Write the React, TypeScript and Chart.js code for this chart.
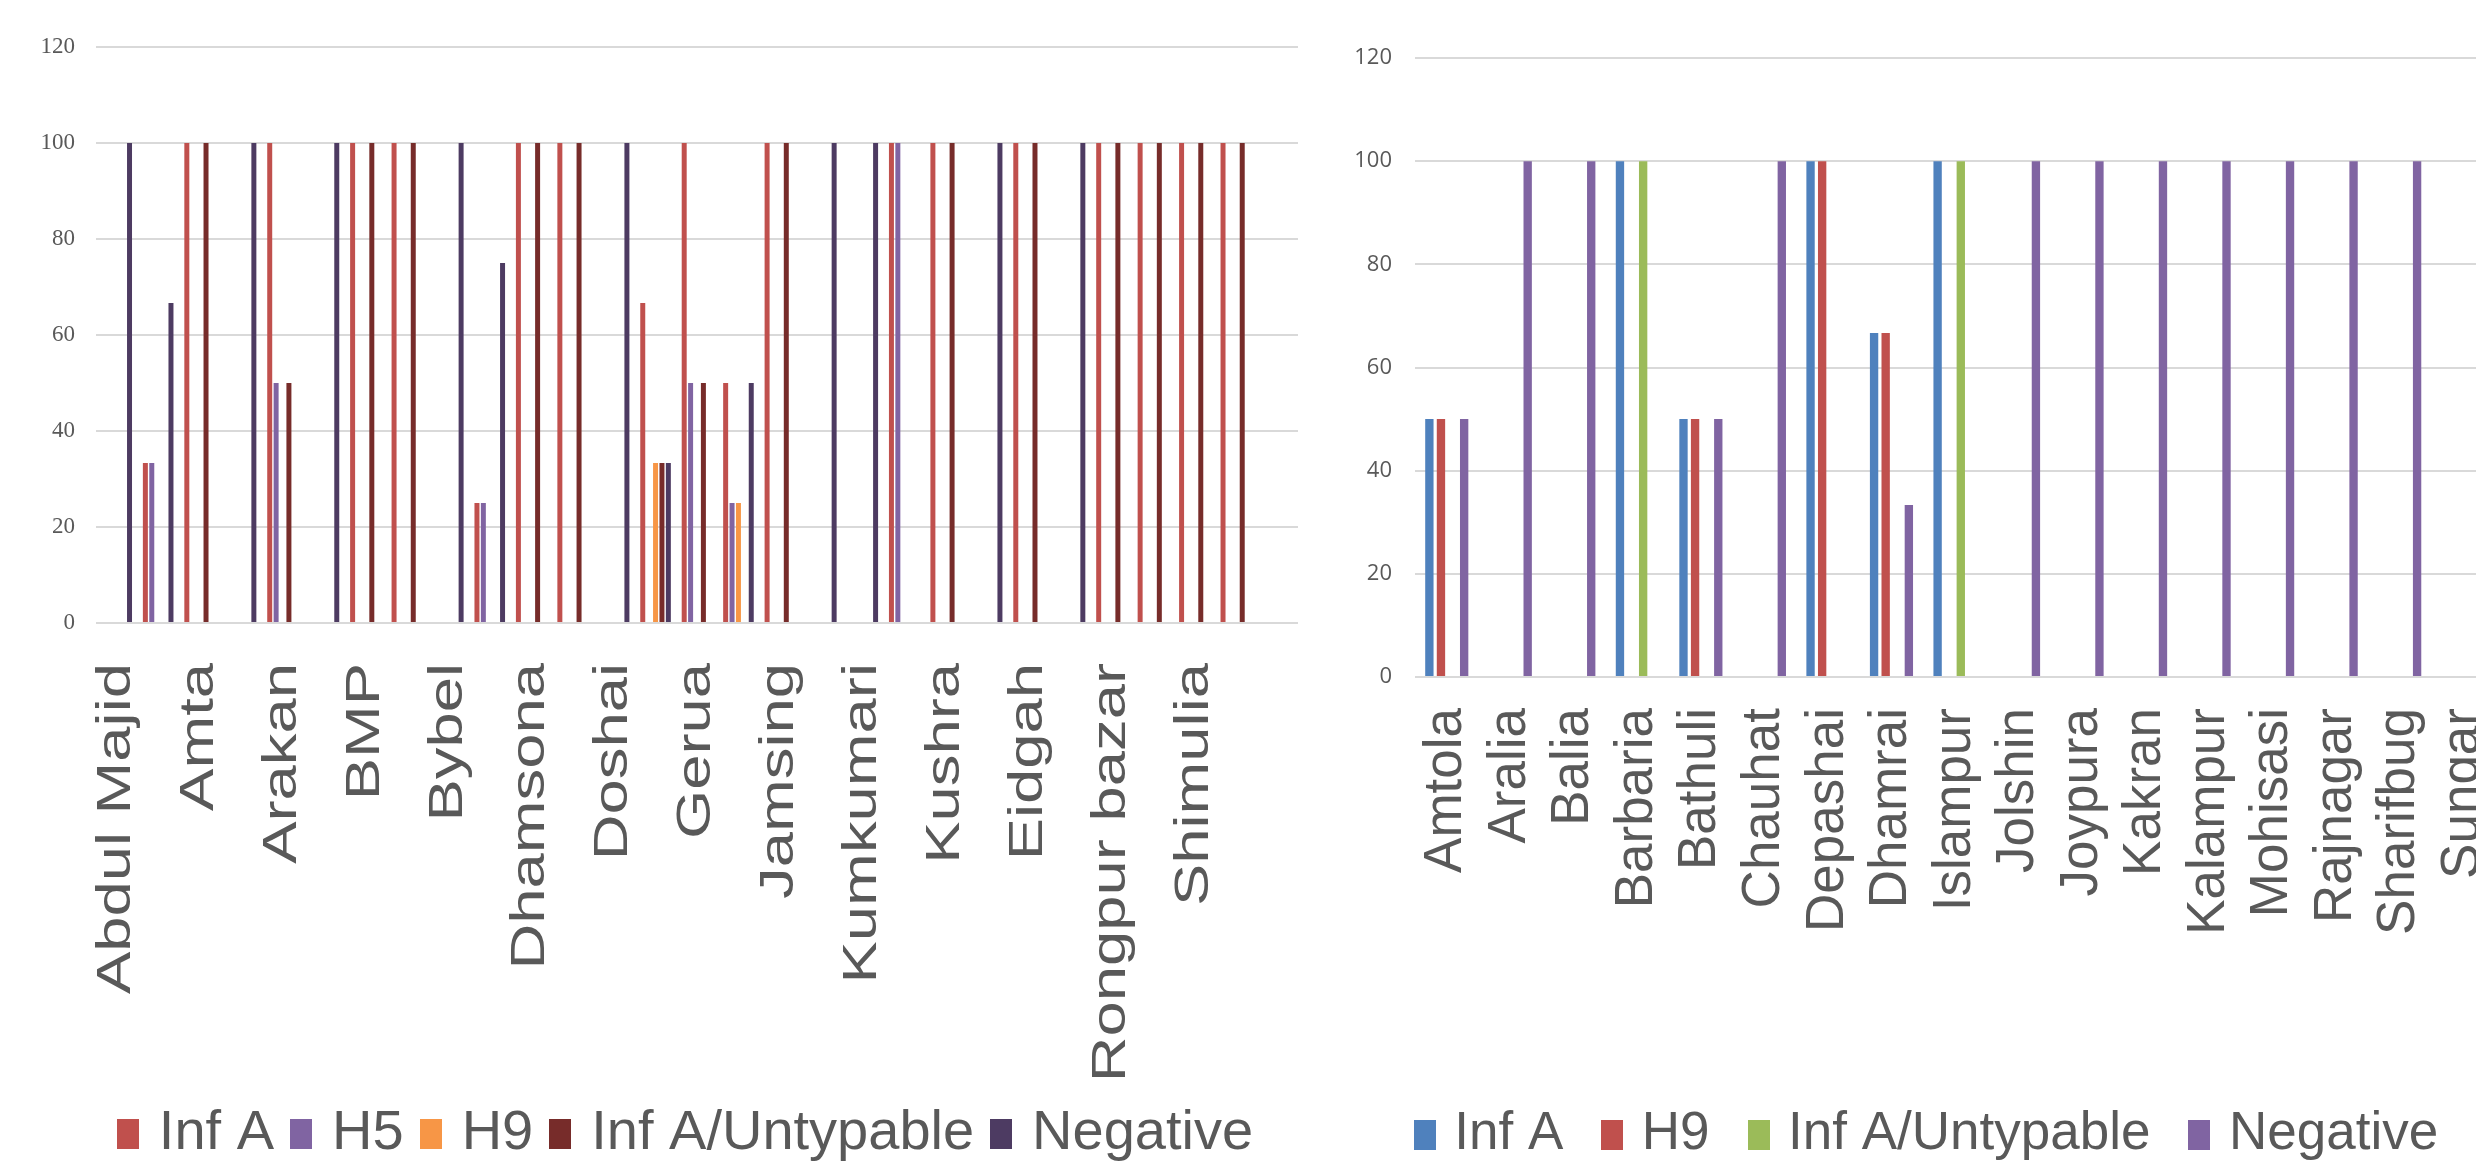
import React, { useEffect, useRef } from 'react';
import { Chart, registerables } from 'chart.js';

Chart.register(...registerables);

// ---------- Left chart data ----------
const leftCategories = [
  'Abdul Majid', '', 'Amta', '', 'Arakan', '', 'BMP', '', 'Bybel', '',
  'Dhamsona', '', 'Doshai', '', 'Gerua', '', 'Jamsing', '', 'Kumkumari', '',
  'Kushra', '', 'Eidgah', '', 'Rongpur bazar', '', 'Shimulia', '', '',
];
const leftInfA = [0, 33.33, 100, 0, 100, 0, 100, 100, 0, 25, 100, 100, 0, 66.67, 100, 50, 100, 0, 0, 100, 100, 0, 100, 0, 100, 100, 100, 100, 0];
const leftH5 = [0, 33.33, 0, 0, 50, 0, 0, 0, 0, 25, 0, 0, 0, 0, 50, 25, 0, 0, 0, 100, 0, 0, 0, 0, 0, 0, 0, 0, 0];
const leftH9 = [0, 0, 0, 0, 0, 0, 0, 0, 0, 0, 0, 0, 0, 33.33, 0, 25, 0, 0, 0, 0, 0, 0, 0, 0, 0, 0, 0, 0, 0];
const leftUntypable = [0, 0, 100, 0, 50, 0, 100, 100, 0, 0, 100, 100, 0, 33.33, 50, 0, 100, 0, 0, 0, 100, 0, 100, 0, 100, 100, 100, 100, 0];
const leftNegative = [100, 66.67, 0, 100, 0, 100, 0, 0, 100, 75, 0, 0, 100, 33.33, 0, 50, 0, 100, 100, 0, 0, 100, 0, 100, 0, 0, 0, 0, 0];

// ---------- Right chart data ----------
const rightCategories = [
  'Amtola', 'Aralia', 'Balia', 'Barbaria', 'Bathuli', 'Chauhat', 'Depashai', 'Dhamrai',
  'Islampur', 'Jolshin', 'Joypura', 'Kakran', 'Kalampur', 'Mohisasi', 'Rajnagar', 'Sharifbug', 'Sungar',
];
const rightInfA = [50, 0, 0, 100, 50, 0, 100, 66.67, 100, 0, 0, 0, 0, 0, 0, 0, 0];
const rightH9 = [50, 0, 0, 0, 50, 0, 100, 66.67, 0, 0, 0, 0, 0, 0, 0, 0, 0];
const rightUntypable = [0, 0, 0, 100, 0, 0, 0, 0, 100, 0, 0, 0, 0, 0, 0, 0, 0];
const rightNegative = [50, 100, 100, 0, 50, 100, 0, 33.33, 0, 100, 100, 100, 100, 100, 100, 100, 100];

const yTicks = [0, 20, 40, 60, 80, 100, 120];

const TEXT = '#595959';
const GRID = '#d9d9d9';

// draws the rotated category labels under the x scale (optionally elongated along the text)
const rotatedLabels = {
  id: 'rotatedLabels',
  afterDraw(chart: any, _args: any, opts: any) {
    if (!opts || !opts.enabled) return;
    const { ctx, chartArea } = chart;
    const xs = chart.scales.x;
    const labels = chart.data.labels as string[];
    ctx.save();
    ctx.font = `${opts.size}px "Liberation Sans", Arial, sans-serif`;
    ctx.fillStyle = opts.color;
    ctx.textAlign = 'right';
    ctx.textBaseline = 'middle';
    labels.forEach((lab, i) => {
      if (!lab) return;
      const x = xs.getPixelForValue(i);
      ctx.save();
      ctx.translate(x, chartArea.bottom + opts.offset);
      ctx.rotate(-Math.PI / 2);
      ctx.scale(opts.stretch, 1);
      ctx.fillText(lab, 0, 0);
      ctx.restore();
    });
    ctx.restore();
  },
};

// an empty scale on the right that only reserves room, so the legend centre sits where the source has it
const spacerAxis = (width: number) => ({
  position: 'right' as const,
  display: true,
  grid: { display: false, drawTicks: false },
  border: { display: false },
  ticks: { display: false },
  afterFit: (s: any) => { s.width = width; },
});

// legend key swatch (22 x 30 rectangle in the series colour)
const makeSwatch = (color: string) => {
  const c = document.createElement('canvas');
  c.width = 22;
  c.height = 30;
  const g = c.getContext('2d')!;
  g.fillStyle = color;
  g.fillRect(0, 0, 22, 30);
  return c;
};

const legendLabels = (chart: any) => {
  const items = Chart.defaults.plugins.legend.labels.generateLabels(chart);
  return items.map((it: any, i: number) => ({
    ...it,
    pointStyle: makeSwatch(chart.data.datasets[i].backgroundColor as string),
    lineWidth: 0,
  }));
};

export default function App() {
  const leftRef = useRef<HTMLCanvasElement>(null);
  const rightRef = useRef<HTMLCanvasElement>(null);

  useEffect(() => {
    document.body.style.overflow = 'hidden';

    const LH = 1172;
    const leftLegendFont = 56, leftLegendPad = 24;
    const leftLegendTop = LH - (leftLegendFont + leftLegendPad + 10);
    const leftBottom = 623;

    const left = new Chart(leftRef.current!, {
      type: 'bar',
      data: {
        labels: leftCategories,
        datasets: [
          { label: 'Inf A', data: leftInfA, backgroundColor: '#C0504D' },
          { label: 'H5', data: leftH5, backgroundColor: '#8064A2' },
          { label: 'H9', data: leftH9, backgroundColor: '#F79646' },
          { label: 'Inf A/Untypable', data: leftUntypable, backgroundColor: '#772C2A' },
          { label: 'Negative', data: leftNegative, backgroundColor: '#4D3B62' },
        ],
      },
      plugins: [rotatedLabels],
      options: {
        responsive: false,
        animation: false,
        datasets: { bar: { categoryPercentage: 0.772, barPercentage: 0.78, borderWidth: 0 } },
        layout: { padding: { left: 0, top: 47, right: 0, bottom: 0 } },
        scales: {
          x: {
            grid: { display: false, drawTicks: false },
            border: { display: false },
            ticks: { display: false },
            afterFit: (s: any) => { s.height = leftLegendTop - leftBottom; },
          },
          y: {
            min: 0,
            max: 120,
            afterBuildTicks: (s: any) => { s.ticks = yTicks.map((v) => ({ value: v })); },
            ticks: { padding: 21, color: TEXT, font: { family: '"Liberation Serif", "Times New Roman", serif', size: 23 } },
            grid: { color: GRID, lineWidth: 2, drawTicks: false },
            border: { display: false },
            afterFit: (s: any) => { s.width = 96; },
          },
          spacer: spacerAxis(80),
        },
        plugins: {
          tooltip: { enabled: false },
          legend: {
            position: 'bottom',
            labels: {
              color: TEXT,
              usePointStyle: true,
              boxWidth: 6,
              boxHeight: 30,
              padding: leftLegendPad,
              generateLabels: legendLabels,
              font: { family: '"Liberation Sans", Arial, sans-serif', size: leftLegendFont },
            },
          },
          rotatedLabels: { enabled: true, size: 48, stretch: 1.32, offset: 40, color: TEXT },
        } as any,
      },
    });

    const RH = 1171;
    const rightLegendFont = 53, rightLegendPad = 46;
    const rightLegendTop = RH - (rightLegendFont + rightLegendPad + 10);
    const rightBottom = 677;

    const right = new Chart(rightRef.current!, {
      type: 'bar',
      data: {
        labels: rightCategories,
        datasets: [
          { label: 'Inf A', data: rightInfA, backgroundColor: '#4F81BD' },
          { label: 'H9', data: rightH9, backgroundColor: '#C0504D' },
          { label: 'Inf A/Untypable', data: rightUntypable, backgroundColor: '#9BBB59' },
          { label: 'Negative', data: rightNegative, backgroundColor: '#8064A2' },
        ],
      },
      plugins: [rotatedLabels],
      options: {
        responsive: false,
        animation: false,
        datasets: { bar: { categoryPercentage: 0.73, barPercentage: 0.72, borderWidth: 0 } },
        layout: { padding: { left: 0, top: 58, right: 0, bottom: 0 } },
        scales: {
          x: {
            grid: { display: false, drawTicks: false },
            border: { display: false },
            ticks: { display: false },
            afterFit: (s: any) => { s.height = rightLegendTop - rightBottom; },
          },
          y: {
            min: 0,
            max: 120,
            afterBuildTicks: (s: any) => { s.ticks = yTicks.map((v) => ({ value: v })); },
            ticks: { padding: 23, color: TEXT, font: { family: '"Open Sans", "Noto Sans", sans-serif', size: 22 } },
            grid: { color: GRID, lineWidth: 2, drawTicks: false },
            border: { display: false },
            afterFit: (s: any) => { s.width = 85; },
          },
          spacer: spacerAxis(35),
        },
        plugins: {
          tooltip: { enabled: false },
          legend: {
            position: 'bottom',
            labels: {
              color: TEXT,
              usePointStyle: true,
              boxWidth: 6,
              boxHeight: 30,
              padding: rightLegendPad,
              generateLabels: legendLabels,
              font: { family: '"Liberation Sans", Arial, sans-serif', size: rightLegendFont },
            },
          },
          rotatedLabels: { enabled: true, size: 53, stretch: 1.0, offset: 31, color: TEXT },
        } as any,
      },
    });

    return () => {
      left.destroy();
      right.destroy();
    };
  }, []);

  return (
    <div style={{ position: 'absolute', left: 0, top: 0, width: 2476, height: 1161, overflow: 'hidden', background: '#ffffff' }}>
      <canvas ref={leftRef} width={1378} height={1172} style={{ position: 'absolute', left: 0, top: 0, width: 1378, height: 1172 }} />
      <canvas ref={rightRef} width={1200} height={1171} style={{ position: 'absolute', left: 1330, top: 0, width: 1200, height: 1171 }} />
    </div>
  );
}
